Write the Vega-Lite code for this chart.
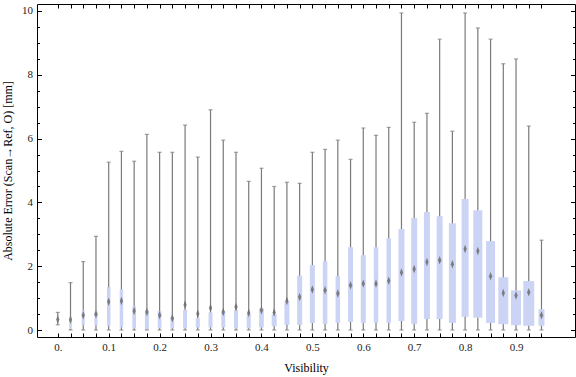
{
  "$schema": "https://vega.github.io/schema/vega-lite/v6.json",
  "width": 538,
  "height": 333,
  "autosize": "none",
  "padding": {"left": 37, "top": 4, "right": 1, "bottom": 40},
  "background": "#ffffff",
  "config": {
    "view": {"stroke": "#000000", "strokeWidth": 1},
    "axis": {
      "domain": false,
      "grid": false,
      "labelFont": "Liberation Serif",
      "labelFontSize": 11,
      "labelColor": "#222222",
      "titleFont": "Liberation Serif",
      "titleFontSize": 12,
      "titleFontWeight": "normal",
      "titleColor": "#000000",
      "tickColor": "#000000",
      "tickWidth": 1,
      "labelOverlap": false,
      "labelFlush": false
    }
  },
  "data": {
    "values": [
      {"v": 0.0, "min": 0.17, "q1": 0.28, "mean": 0.34, "q3": 0.42, "max": 0.56, "count": 100},
      {"v": 0.025, "min": 0.01, "q1": 0.04, "mean": 0.33, "q3": 0.44, "max": 1.49, "count": 125},
      {"v": 0.05, "min": 0.01, "q1": 0.17, "mean": 0.47, "q3": 0.63, "max": 2.15, "count": 150},
      {"v": 0.075, "min": 0.01, "q1": 0.15, "mean": 0.5, "q3": 0.6, "max": 2.94, "count": 150},
      {"v": 0.1, "min": 0.01, "q1": 0.14, "mean": 0.89, "q3": 1.35, "max": 5.26, "count": 175},
      {"v": 0.125, "min": 0.01, "q1": 0.09, "mean": 0.92, "q3": 1.28, "max": 5.6, "count": 175},
      {"v": 0.15, "min": 0.01, "q1": 0.06, "mean": 0.6, "q3": 0.75, "max": 5.29, "count": 185},
      {"v": 0.175, "min": 0.01, "q1": 0.03, "mean": 0.57, "q3": 0.62, "max": 6.13, "count": 200},
      {"v": 0.2, "min": 0.01, "q1": 0.06, "mean": 0.47, "q3": 0.6, "max": 5.57, "count": 185},
      {"v": 0.225, "min": 0.01, "q1": 0.06, "mean": 0.38, "q3": 0.41, "max": 5.57, "count": 185},
      {"v": 0.25, "min": 0.01, "q1": 0.06, "mean": 0.8, "q3": 0.63, "max": 6.42, "count": 200},
      {"v": 0.275, "min": 0.01, "q1": 0.09, "mean": 0.52, "q3": 0.38, "max": 5.42, "count": 200},
      {"v": 0.3, "min": 0.01, "q1": 0.09, "mean": 0.7, "q3": 0.56, "max": 6.9, "count": 200},
      {"v": 0.325, "min": 0.01, "q1": 0.09, "mean": 0.57, "q3": 0.6, "max": 5.95, "count": 200},
      {"v": 0.35, "min": 0.01, "q1": 0.06, "mean": 0.73, "q3": 0.63, "max": 5.57, "count": 200},
      {"v": 0.375, "min": 0.01, "q1": 0.06, "mean": 0.54, "q3": 0.53, "max": 4.66, "count": 200},
      {"v": 0.4, "min": 0.01, "q1": 0.09, "mean": 0.63, "q3": 0.69, "max": 5.07, "count": 235},
      {"v": 0.425, "min": 0.01, "q1": 0.13, "mean": 0.56, "q3": 0.5, "max": 4.5, "count": 250},
      {"v": 0.45, "min": 0.01, "q1": 0.17, "mean": 0.92, "q3": 0.91, "max": 4.63, "count": 250},
      {"v": 0.475, "min": 0.01, "q1": 0.17, "mean": 1.04, "q3": 1.71, "max": 4.6, "count": 250},
      {"v": 0.5, "min": 0.01, "q1": 0.23, "mean": 1.28, "q3": 2.04, "max": 5.57, "count": 250},
      {"v": 0.525, "min": 0.01, "q1": 0.2, "mean": 1.25, "q3": 2.16, "max": 5.66, "count": 225},
      {"v": 0.55, "min": 0.01, "q1": 0.23, "mean": 1.15, "q3": 1.69, "max": 5.95, "count": 225},
      {"v": 0.575, "min": 0.01, "q1": 0.26, "mean": 1.41, "q3": 2.6, "max": 5.35, "count": 250},
      {"v": 0.6, "min": 0.01, "q1": 0.23, "mean": 1.46, "q3": 2.35, "max": 6.33, "count": 250},
      {"v": 0.625, "min": 0.01, "q1": 0.23, "mean": 1.46, "q3": 2.6, "max": 6.1, "count": 225},
      {"v": 0.65, "min": 0.01, "q1": 0.23, "mean": 1.55, "q3": 2.88, "max": 6.35, "count": 225},
      {"v": 0.675, "min": 0.01, "q1": 0.29, "mean": 1.81, "q3": 3.17, "max": 9.93, "count": 300},
      {"v": 0.7, "min": 0.01, "q1": 0.2, "mean": 1.92, "q3": 3.51, "max": 6.51, "count": 300},
      {"v": 0.725, "min": 0.01, "q1": 0.35, "mean": 2.14, "q3": 3.7, "max": 6.79, "count": 300},
      {"v": 0.75, "min": 0.01, "q1": 0.35, "mean": 2.19, "q3": 3.57, "max": 9.11, "count": 300},
      {"v": 0.775, "min": 0.01, "q1": 0.23, "mean": 2.07, "q3": 3.35, "max": 6.23, "count": 350},
      {"v": 0.8, "min": 0.01, "q1": 0.42, "mean": 2.54, "q3": 4.11, "max": 9.93, "count": 350},
      {"v": 0.825, "min": 0.01, "q1": 0.39, "mean": 2.48, "q3": 3.76, "max": 9.46, "count": 450},
      {"v": 0.85, "min": 0.01, "q1": 0.23, "mean": 1.69, "q3": 2.79, "max": 9.11, "count": 450},
      {"v": 0.875, "min": 0.01, "q1": 0.19, "mean": 1.17, "q3": 1.66, "max": 8.34, "count": 500},
      {"v": 0.9, "min": 0.01, "q1": 0.16, "mean": 1.09, "q3": 1.25, "max": 8.49, "count": 500},
      {"v": 0.925, "min": 0.01, "q1": 0.14, "mean": 1.19, "q3": 1.54, "max": 6.39, "count": 550},
      {"v": 0.95, "min": 0.01, "q1": 0.14, "mean": 0.47, "q3": 0.66, "max": 2.82, "count": 300}
    ]
  },
  "layer": [
    {
      "mark": {"type": "rule", "color": "#7a7a7a", "strokeWidth": 1.2},
      "encoding": {
        "x": {
          "field": "v", "type": "quantitative",
          "scale": {"domain": [-0.031, 1.006], "nice": false, "zero": false},
          "axis": {
            "orient": "bottom",
            "values": [0, 0.025, 0.05, 0.075, 0.1, 0.125, 0.15, 0.175, 0.2, 0.225, 0.25, 0.275, 0.3, 0.325, 0.35, 0.375, 0.4, 0.425, 0.45, 0.475, 0.5, 0.525, 0.55, 0.575, 0.6, 0.625, 0.65, 0.675, 0.7, 0.725, 0.75, 0.775, 0.8, 0.825, 0.85, 0.875, 0.9, 0.925, 0.95],
            "labelExpr": "abs(datum.value * 10 - round(datum.value * 10)) < 0.001 ? (datum.value == 0 ? '0.' : format(datum.value, '.1f')) : ''",
            "tickSize": -4,
            "labelPadding": 8,
            "title": "Visibility",
            "titlePadding": 10
          }
        },
        "y": {
          "field": "min", "type": "quantitative",
          "scale": {"domain": [-0.21, 10.21], "nice": false, "zero": false},
          "axis": {
            "orient": "left",
            "values": [0, 0.5, 1, 1.5, 2, 2.5, 3, 3.5, 4, 4.5, 5, 5.5, 6, 6.5, 7, 7.5, 8, 8.5, 9, 9.5, 10],
            "labelExpr": "datum.value % 2 == 0 ? format(datum.value, 'd') : ''",
            "tickSize": {"condition": {"test": "datum.value % 2 == 0", "value": -4.5}, "value": -2.5},
            "labelPadding": 9,
            "title": "Absolute Error (Scan\u2192Ref, O) [mm]",
            "titlePadding": 7
          }
        },
        "y2": {"field": "max"}
      }
    },
    {
      "mark": {"type": "bar", "color": "#ccd4f5", "opacity": 1},
      "encoding": {
        "x": {"field": "v", "type": "quantitative", "axis": null},
        "y": {"field": "q1", "type": "quantitative", "axis": null},
        "y2": {"field": "q3"},
        "size": {"field": "count", "type": "quantitative", "scale": {"domain": [0, 600], "range": [0, 12]}, "legend": null}
      }
    },
    {
      "mark": {"type": "tick", "orient": "horizontal", "size": 4, "thickness": 1.2, "color": "#7a7a7a"},
      "encoding": {
        "x": {
          "field": "v", "type": "quantitative",
          "axis": {
            "orient": "top",
            "values": [0, 0.025, 0.05, 0.075, 0.1, 0.125, 0.15, 0.175, 0.2, 0.225, 0.25, 0.275, 0.3, 0.325, 0.35, 0.375, 0.4, 0.425, 0.45, 0.475, 0.5, 0.525, 0.55, 0.575, 0.6, 0.625, 0.65, 0.675, 0.7, 0.725, 0.75, 0.775, 0.8, 0.825, 0.85, 0.875, 0.9, 0.925, 0.95],
            "labels": false,
            "tickSize": -4,
            "title": null
          }
        },
        "y": {
          "field": "max", "type": "quantitative",
          "axis": {
            "orient": "right",
            "values": [0, 0.5, 1, 1.5, 2, 2.5, 3, 3.5, 4, 4.5, 5, 5.5, 6, 6.5, 7, 7.5, 8, 8.5, 9, 9.5, 10],
            "labels": false,
            "tickSize": {"condition": {"test": "datum.value % 2 == 0", "value": -4.5}, "value": -2.5},
            "title": null
          }
        }
      }
    },
    {
      "mark": {"type": "tick", "orient": "horizontal", "size": 4, "thickness": 1.2, "color": "#7a7a7a"},
      "encoding": {
        "x": {"field": "v", "type": "quantitative", "axis": null},
        "y": {"field": "min", "type": "quantitative", "axis": null}
      }
    },
    {
      "mark": {"type": "point", "shape": "M0,-1L0.38,0L0,1L-0.38,0Z", "filled": true, "size": 72, "color": "#6b6b6b", "opacity": 0.85},
      "encoding": {
        "x": {"field": "v", "type": "quantitative", "axis": null},
        "y": {"field": "mean", "type": "quantitative", "axis": null}
      }
    }
  ],
  "resolve": {"axis": {"x": "independent", "y": "independent"}}
}
